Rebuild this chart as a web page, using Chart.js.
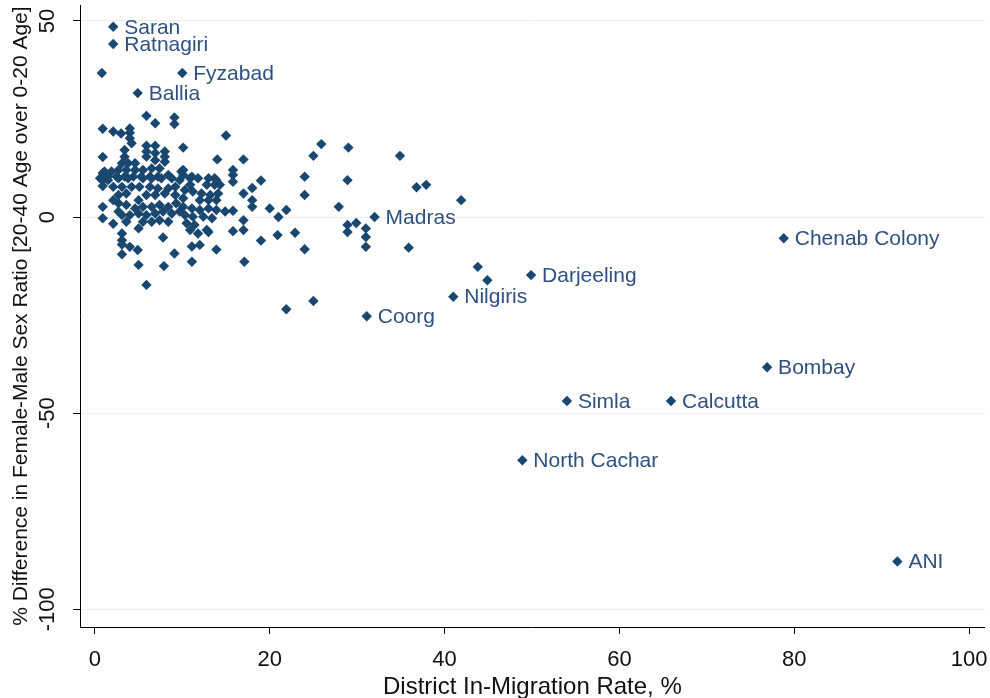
<!DOCTYPE html>
<html>
<head>
<meta charset="utf-8">
<script src="https://cdn.jsdelivr.net/npm/chart.js@4/dist/chart.umd.min.js"></script>
<style>
  html, body { margin: 0; padding: 0; background: #ffffff; }
  #wrap { width: 990px; height: 698px; }
</style>
</head>
<body>
<div id="wrap"><canvas id="c" width="990" height="698"></canvas></div>
<script>
// ---- data ----
const xTitle = "District In-Migration Rate, %";
const yTitle = "% Difference in Female-Male Sex Ratio [20-40 Age over 0-20 Age]";
const xTicks = [0, 20, 40, 60, 80, 100];
const yTicks = [-100, -50, 0, 50];

const labelNames = ["Saran", "Ratnagiri", "Fyzabad", "Ballia", "Madras", "Chenab Colony", "Darjeeling",
  "Nilgiris", "Coorg", "Bombay", "Simla", "Calcutta", "North Cachar", "ANI"];
const labelX = [2.1, 2.1, 10.0, 4.9, 32.0, 78.8, 49.9, 41.0, 31.1, 76.9, 54.0, 65.9, 48.9, 91.8];
const labelY = [48.5, 44.1, 36.7, 31.6, 0.0, -5.4, -14.8, -20.3, -25.3, -38.3, -46.9, -46.9, -62.0, -87.8];

const otherX = [
  0.8, 5.9, 6.9, 9.1, 9.1, 0.9, 2.1, 3.0, 4.0, 4.0, 4.0, 4.2, 15.0, 5.9, 6.9, 10.1,
  8.0, 8.0, 8.0, 0.9, 14.0, 17.0, 15.8, 15.8, 15.8,
  19.0, 18.0, 17.0, 18.0, 18.0, 20.0, 21.0, 20.9, 19.0, 21.9, 22.9,
  24.0, 24.0, 25.0, 25.9, 29.0, 28.9, 27.9, 28.9, 29.9, 28.9, 31.0, 31.0, 31.0, 24.0,
  34.9, 36.8, 37.9, 41.9, 35.9, 43.8, 44.9, 25.0, 21.9,
  17.1, 17.0, 17.0, 15.8, 14.9, 15.8, 11.1, 11.1, 12.0, 13.9, 12.8,
  0.9, 0.9, 2.1, 3.1, 3.1, 3.1, 4.0, 4.9, 3.1, 5.0, 7.8, 9.1, 5.0, 7.9, 5.9,
  0.9, 0.9, 0.9, 9.9, 10.1, 10.1, 11.1, 13.0, 13.9,
  3.4, 3.4, 3.1, 3.8, 4.6, 2.7, 3.6, 4.6, 5.5, 6.5, 7.4, 1.1, 1.9, 1.5, 2.5, 3.4, 4.4, 5.3, 6.3, 7.2, 8.4,
  5.9, 5.9, 6.9, 6.9,
  0.6, 1.5, 2.7, 3.8, 5.5, 6.5, 7.6, 8.8, 9.7, 3.1, 4.2, 5.1, 6.3, 7.2, 8.4, 9.2,
  2.7, 3.6, 5.0, 5.9, 6.9, 8.0, 9.2, 2.7, 3.6, 4.6, 5.5, 6.5, 7.4, 8.4, 9.3,
  4.0, 5.0, 5.9, 6.9, 7.8, 8.8, 9.7, 6.5, 7.4, 8.4, 5.5,
  10.9, 11.8, 13.7, 10.9, 12.8, 13.7, 14.3, 10.3, 11.2, 12.2, 13.2, 14.1, 10.1, 12.0, 13.0, 13.9,
  10.1, 11.1, 12.0, 13.0, 13.9, 10.3, 11.2, 12.4, 13.4, 10.5, 11.4, 10.9, 11.8, 13.0,
  2.7, 2.1, 2.1, 3.1, 3.6
];
const otherY = [
  36.7, 25.8, 23.9, 25.4, 23.7, 22.5, 21.8, 21.3, 22.6, 21.5, 20.1, 18.8, 20.8, 18.2, 18.2, 17.7,
  16.7, 15.4, 14.1, 15.3, 14.7, 14.7, 12.0, 10.7, 9.0,
  9.3, 7.4, 6.0, 4.3, 2.6, 2.2, 0.0, -4.6, -6.0, 1.8, -4.0,
  10.3, 5.6, 15.6, 18.6, 17.7, 9.4, 2.6, -2.0, -1.5, -3.8, -2.9, -5.1, -7.6, -8.2,
  15.6, 7.6, 8.2, 4.3, -7.8, -12.7, -16.1, -21.4, -23.5,
  -11.4, -3.3, -0.8, 1.6, 1.4, -3.6, -11.4, -7.5, -7.1, -8.3, -3.3,
  2.6, -0.3, -1.7, -4.2, -5.9, -7.0, -7.6, -8.4, -9.5, -2.9, -5.2, -9.3, -12.2, -12.5, -17.3,
  11.2, 9.4, 7.9, 11.6, 12.0, 10.7, 10.3, 9.9, 9.4,
  17.1, 15.4, 13.7, 13.7, 13.7, 12.0, 12.0, 12.0, 12.0, 12.4, 12.4, 11.6, 11.6, 10.3, 10.3, 10.3, 10.3, 10.3, 10.3, 10.3, 10.7,
  16.7, 15.4, 16.3, 14.5,
  9.9, 9.4, 9.9, 9.9, 9.9, 9.9, 9.9, 9.9, 9.4, 7.7, 7.7, 7.7, 7.7, 7.3, 7.3, 7.7,
  5.6, 6.0, 4.3, 5.6, 5.6, 6.0, 5.6, 3.5, 3.1, 2.2, 2.6, 2.6, 3.1, 2.6, 3.5,
  0.5, 0.9, 0.5, 0.9, 1.4, 0.9, 1.4, -1.2, -0.8, -1.2, -1.2,
  9.9, 9.9, 9.9, 8.2, 8.2, 8.2, 8.2, 6.9, 6.5, 6.0, 5.6, 6.0, 4.8, 4.3, 4.3, 4.3,
  2.6, 2.2, 1.8, 2.2, 1.8, 0.5, 0.1, 0.1, -0.3, -1.6, -2.0, -3.3, -4.2, -3.8,
  1.4, 4.3, 7.7, 0.5, -1.2
];

// ---- styling ----
const FONT = "'Liberation Sans', Arial, sans-serif";
const MARK = "#1a476f";
const LABEL_COLOR = "#2f5080";

const toPts = (xs, ys) => xs.map((x, i) => ({ x: x, y: ys[i] }));

const pointLabels = {
  id: 'pointLabels',
  afterDatasetsDraw(chart) {
    const ctx = chart.ctx;
    const meta = chart.getDatasetMeta(0);
    ctx.save();
    ctx.font = "21px " + FONT;
    ctx.fillStyle = LABEL_COLOR;
    ctx.textAlign = 'left';
    ctx.textBaseline = 'middle';
    meta.data.forEach((el, i) => {
      ctx.fillText(labelNames[i], el.x + 11, el.y + 1);
    });
    ctx.restore();
  }
};

const yTickLabels = {
  id: 'yTickLabels',
  afterDraw(chart) {
    const ctx = chart.ctx;
    const ys = chart.scales.y;
    ctx.save();
    ctx.font = "22px " + FONT;
    ctx.fillStyle = '#111';
    ctx.textAlign = 'center';
    ctx.textBaseline = 'middle';
    yTicks.forEach(v => {
      ctx.save();
      ctx.translate(48, ys.getPixelForValue(v));
      ctx.rotate(-Math.PI / 2);
      ctx.fillText(String(v), 0, 0);
      ctx.restore();
    });
    ctx.restore();
  }
};

new Chart(document.getElementById('c'), {
  type: 'scatter',
  data: {
    datasets: [
      { data: toPts(labelX, labelY), pointStyle: 'rectRot', pointRadius: 5.2,
        backgroundColor: MARK, borderColor: MARK, borderWidth: 0 },
      { data: toPts(otherX, otherY), pointStyle: 'rectRot', pointRadius: 5.2,
        backgroundColor: MARK, borderColor: MARK, borderWidth: 0 }
    ]
  },
  options: {
    responsive: false,
    animation: false,
    devicePixelRatio: 1,
    layout: { padding: { top: 5, right: 5, left: 0, bottom: 0 } },
    plugins: { legend: { display: false }, tooltip: { enabled: false } },
    scales: {
      x: {
        type: 'linear', min: -1.7, max: 101.8,
        afterBuildTicks: s => { s.ticks = xTicks.map(v => ({ value: v })); },
        afterFit: s => { s.height = 71; s.paddingLeft = 0; s.paddingRight = 0; },
        grid: { drawOnChartArea: false, tickLength: 7, tickColor: '#000', tickWidth: 1 },
        border: { color: '#000', width: 1 },
        ticks: { font: { family: FONT, size: 22 }, color: '#111', padding: 13, maxRotation: 0, minRotation: 0 },
        title: { display: true, text: xTitle, color: '#111', font: { family: FONT, size: 24 }, padding: { top: 0, bottom: -4 } }
      },
      y: {
        type: 'linear', min: -104.5, max: 54,
        afterBuildTicks: s => { s.ticks = yTicks.map(v => ({ value: v })); },
        afterFit: s => { s.width = 80; s.paddingTop = 0; s.paddingBottom = 0; },
        grid: { color: '#e8f0f2', lineWidth: 1, tickLength: 7, tickColor: '#000', tickWidth: 1 },
        border: { color: '#000', width: 1 },
        ticks: { display: false },
        title: { display: true, text: yTitle, color: '#111', font: { family: FONT, size: 21 }, padding: { top: 9, bottom: 0 } }
      }
    }
  },
  plugins: [pointLabels, yTickLabels]
});
</script>
</body>
</html>
